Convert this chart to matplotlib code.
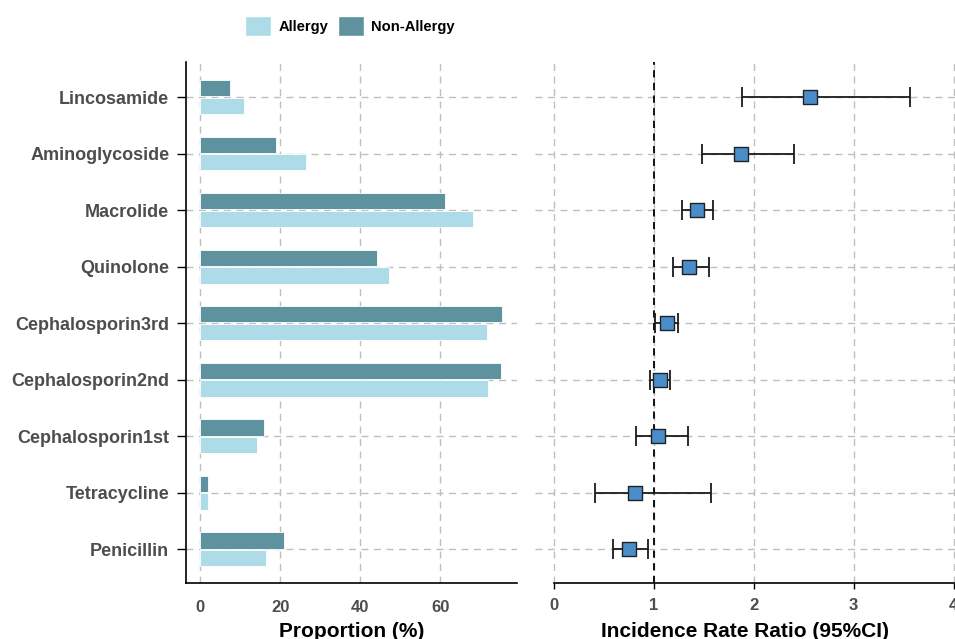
import matplotlib.pyplot as plt
import matplotlib.patches as mpatches
import numpy as np

plt.rcParams['font.family'] = ['Liberation Sans', 'DejaVu Sans']

# bottom to top
drugs = ['Penicillin', 'Tetracycline', 'Cephalosporin1st', 'Cephalosporin2nd',
         'Cephalosporin3rd', 'Quinolone', 'Macrolide', 'Aminoglycoside', 'Lincosamide']
allergy = [16.3, 1.8, 14.1, 72.0, 71.7, 47.1, 68.1, 26.3, 10.8]
non_allergy = [20.9, 2.0, 15.8, 75.3, 75.5, 44.1, 61.3, 19.0, 7.3]

irr = [0.75, 0.81, 1.04, 1.06, 1.13, 1.35, 1.43, 1.87, 2.56]
irr_low = [0.59, 0.41, 0.82, 0.96, 1.01, 1.19, 1.28, 1.48, 1.88]
irr_high = [0.94, 1.57, 1.34, 1.16, 1.24, 1.55, 1.59, 2.40, 3.56]

c_allergy = '#ADDBE7'
c_non = '#5E929F'
grid_col = '#BEBEBE'
tick_col = '#4D4D4D'

fig = plt.figure(figsize=(9.55, 6.39), dpi=100)
ax1 = fig.add_axes([186/955, 1-583/639, (517-186)/955, (583-62)/639])
ax2 = fig.add_axes([535/955, 1-583/639, (955-535)/955, (583-62)/639])

y = np.arange(1, len(drugs) + 1)
h = 0.29

# left: proportions
ax1.barh(y + 0.155, non_allergy, height=h, color=c_non, edgecolor='white', linewidth=0.6, zorder=3)
ax1.barh(y - 0.155, allergy, height=h, color=c_allergy, edgecolor='white', linewidth=0.6, zorder=3)
ax1.set_xlim(-3.6, 79.2)
ax1.set_ylim(0.4, 9.62)
ax1.set_yticks(y)
ax1.set_yticklabels(drugs, fontsize=13, fontweight='bold', color=tick_col)
ax1.set_xticks([0, 20, 40, 60])
ax1.tick_params(axis='x', length=0, labelsize=12, labelcolor=tick_col, pad=12)
ax1.tick_params(axis='y', length=6.5, width=1, color='black', pad=5.5)
for lab in ax1.get_xticklabels():
    lab.set_fontweight('bold')
ax1.set_xlabel('Proportion (%)', fontsize=15, fontweight='bold', labelpad=5)
ax1.grid(True, linestyle=(0, (5, 4)), color=grid_col, linewidth=1, zorder=0)
ax1.spines['top'].set_visible(False)
ax1.spines['right'].set_visible(False)
ax1.spines['left'].set_linewidth(1.2)
ax1.spines['bottom'].set_linewidth(1.2)

# right: incidence rate ratio
err = [np.array(irr) - np.array(irr_low), np.array(irr_high) - np.array(irr)]
ax2.axvline(1, color='black', linestyle=(0, (4, 3)), linewidth=1.3, zorder=2)
ax2.errorbar(irr, y, xerr=err, fmt='none', ecolor='#1a1a1a', elinewidth=1.3,
             capsize=7, capthick=1.3, zorder=3)
ax2.scatter(irr, y, marker='s', s=92, color='#4A8DCB', edgecolor='#222222',
            linewidth=1, zorder=4)
ax2.set_xlim(-0.187, 4.013)
ax2.set_ylim(0.4, 9.62)
ax2.set_yticks(y)
ax2.set_yticklabels([])
ax2.tick_params(axis='y', length=0)
ax2.set_xticks([0, 1, 2, 3, 4])
ax2.tick_params(axis='x', length=4, width=1, color='black', labelsize=12, labelcolor=tick_col, pad=7)
for lab in ax2.get_xticklabels():
    lab.set_fontweight('bold')
ax2.set_xlabel('Incidence Rate Ratio (95%CI)', fontsize=15, fontweight='bold', labelpad=6)
ax2.grid(True, linestyle=(0, (5, 4)), color=grid_col, linewidth=1, zorder=0)
for s in ['top', 'right', 'left']:
    ax2.spines[s].set_visible(False)
ax2.spines['bottom'].set_bounds(0, 4)
ax2.spines['bottom'].set_linewidth(1.2)

handles = [mpatches.Patch(facecolor=c_allergy, edgecolor='white', label='Allergy'),
           mpatches.Patch(facecolor=c_non, edgecolor='white', label='Non-Allergy')]
fig.legend(handles=handles, loc='center', bbox_to_anchor=(350/955, 1-26/639), ncol=2,
           frameon=False, prop={'weight': 'bold', 'size': 10.6},
           handlelength=1.8, handleheight=1.8, handletextpad=0.5, columnspacing=0.6)

fig.savefig('out.png', dpi=100)
